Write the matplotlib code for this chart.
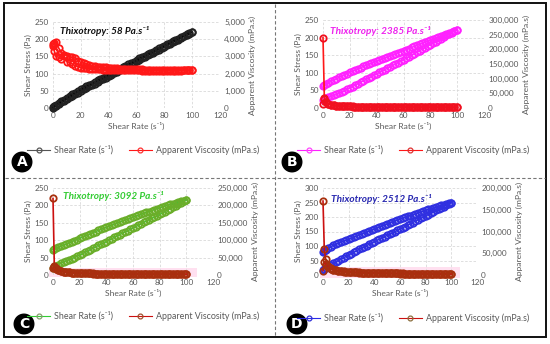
import matplotlib
matplotlib.use("Agg")
import matplotlib.pyplot as plt
from matplotlib.lines import Line2D
from matplotlib.patches import Rectangle
from matplotlib.ticker import FuncFormatter

plt.rcParams['font.family'] = ['Lato', 'DejaVu Sans']

# ---------------- data ----------------
rate = [0, 1, 2, 4, 6, 8, 10, 12, 14, 16, 18, 20, 22, 24, 26, 28, 30, 32, 34, 36, 38, 40,
        42, 44, 46, 48, 50, 52, 54, 56, 58, 60, 62, 64, 66, 68, 70, 72, 74, 76, 78, 80,
        82, 84, 86, 88, 90, 92, 94, 96, 98, 100]

# Panel A
a_stress_up = [0, 3, 6, 11, 16, 21, 26, 31, 36, 41, 45, 50, 54, 59, 63, 67, 71, 76, 80, 84, 88, 93,
               97, 101, 105, 110, 114, 118, 122, 127, 131, 136, 140, 144, 148, 153, 157, 161, 165, 170, 174, 178,
               182, 187, 191, 195, 199, 204, 208, 212, 216, 221]
a_stress_down = [2, 5, 9, 14, 19, 24, 29, 35, 40, 45, 50, 54, 59, 63, 67, 71, 76, 80, 84, 88, 93, 97,
                 101, 105, 110, 114, 118, 122, 127, 131, 135, 139, 144, 148, 152, 156, 160, 164, 169, 173, 177, 181,
                 186, 190, 194, 198, 202, 206, 210, 214, 218, 222]
a_visc_up = [3700, 3800, 3850, 3500, 3200, 3100, 3050, 2950, 2950, 2900, 2750, 2650, 2600, 2550, 2500, 2450,
             2420, 2400, 2385, 2370, 2355, 2340, 2325, 2310, 2300, 2290, 2280, 2270, 2265, 2260, 2255, 2250,
             2245, 2240, 2235, 2230, 2225, 2220, 2218, 2215, 2212, 2210, 2208, 2205, 2202, 2200, 2200, 2200,
             2198, 2195, 2192, 2190]
a_visc_down = [3600, 3300, 3000, 2950, 2850, 3000, 2700, 2650, 2550, 2450, 2400, 2350, 2320, 2300, 2285, 2270,
               2260, 2250, 2240, 2230, 2225, 2220, 2215, 2210, 2205, 2200, 2198, 2195, 2192, 2190, 2188, 2185,
               2182, 2180, 2180, 2180, 2178, 2175, 2175, 2175, 2175, 2175, 2175, 2175, 2178, 2180, 2180, 2180,
               2182, 2185, 2188, 2190]

# Panel B
b_stress_up = [22, 25, 27, 30, 33, 36, 39, 42, 45, 49, 53, 57, 61, 65, 69, 73, 77, 81, 85, 89, 93, 97,
               101, 105, 109, 113, 117, 121, 125, 129, 133, 137, 141, 145, 150, 154, 159, 163, 167, 171, 176, 180,
               184, 188, 193, 197, 202, 206, 210, 214, 219, 223]
b_stress_down = [62, 66, 69, 72, 76, 80, 83, 87, 91, 94, 98, 101, 105, 108, 111, 114, 118, 121, 124, 127, 130, 133,
                 136, 139, 142, 145, 148, 151, 154, 157, 160, 163, 166, 169, 172, 175, 178, 181, 184, 187, 190, 193,
                 196, 199, 202, 205, 208, 211, 214, 217, 220, 223]
b_visc_up = [240000, 35000, 22000, 15000, 11500, 9500, 8200, 7300, 6700, 6200, 5800, 5400, 5150, 4900, 4700, 4500,
             4350, 4200, 4050, 3900, 3800, 3700, 3600, 3500, 3420, 3350, 3270, 3200, 3120, 3050, 3000, 2950,
             2900, 2850, 2800, 2750, 2700, 2650, 2620, 2580, 2540, 2500, 2470, 2450, 2420, 2380, 2350, 2330,
             2300, 2280, 2250, 2230]
b_visc_down = [12000, 30000, 20000, 14000, 11000, 9000, 7800, 7000, 6400, 5900, 5500, 5200, 4950, 4700, 4500, 4300,
               4150, 4000, 3900, 3800, 3700, 3600, 3500, 3400, 3320, 3250, 3170, 3100, 3050, 3000, 2950, 2900,
               2850, 2800, 2750, 2700, 2660, 2620, 2580, 2550, 2510, 2480, 2450, 2420, 2390, 2360, 2330, 2310,
               2280, 2260, 2240, 2230]

# Panel C
c_stress_up = [20, 23, 26, 30, 34, 38, 41, 44, 47, 50, 54, 57, 61, 65, 69, 73, 77, 81, 85, 88, 92, 96,
               100, 104, 108, 112, 116, 120, 124, 127, 131, 135, 139, 143, 147, 151, 155, 159, 163, 166, 170, 174,
               178, 182, 187, 191, 195, 199, 204, 208, 212, 216]
c_stress_down = [73, 75, 77, 80, 83, 86, 89, 92, 96, 99, 102, 105, 109, 112, 115, 118, 122, 125, 128, 131, 134, 137,
                 140, 143, 146, 149, 152, 155, 158, 160, 163, 166, 169, 171, 174, 177, 180, 182, 185, 188, 191, 193,
                 196, 198, 201, 203, 205, 207, 210, 212, 214, 216]
c_visc_up = [220000, 25000, 20000, 15000, 12000, 10000, 8800, 7800, 7100, 6500, 6000, 5600, 5300, 5000, 4800, 4600,
             4400, 4200, 4050, 3900, 3800, 3700, 3600, 3500, 3400, 3300, 3220, 3150, 3070, 3000, 2950, 2900,
             2850, 2800, 2750, 2700, 2650, 2600, 2550, 2500, 2470, 2450, 2420, 2400, 2370, 2350, 2320, 2300,
             2270, 2250, 2220, 2200]
c_visc_down = [20000, 22000, 18000, 14000, 11000, 9300, 8200, 7300, 6700, 6100, 5700, 5300, 5050, 4800, 4600, 4400,
               4200, 4000, 3870, 3750, 3650, 3550, 3450, 3350, 3270, 3200, 3120, 3050, 2970, 2900, 2850, 2800,
               2750, 2700, 2650, 2600, 2560, 2520, 2480, 2450, 2420, 2400, 2370, 2350, 2320, 2300, 2280, 2260,
               2240, 2230, 2210, 2200]

# Panel D
d_stress_up = [18, 22, 25, 30, 35, 40, 45, 50, 55, 59, 64, 69, 74, 78, 83, 88, 92, 97, 101, 106, 110, 115,
               119, 124, 128, 132, 137, 141, 145, 149, 154, 158, 163, 167, 172, 176, 181, 186, 190, 195, 199, 204,
               208, 213, 218, 223, 227, 232, 236, 241, 245, 250]
d_stress_down = [81, 84, 87, 92, 97, 102, 106, 110, 114, 117, 120, 123, 127, 131, 134, 138, 141, 145, 148, 152, 155, 159,
                 162, 166, 169, 173, 176, 180, 183, 187, 190, 193, 196, 199, 202, 205, 208, 211, 214, 217, 220, 223,
                 226, 229, 231, 234, 237, 240, 242, 245, 247, 250]
d_visc_up = [170000, 60000, 37000, 20000, 15000, 12500, 11000, 9800, 9000, 8200, 7700, 7200, 6800, 6400, 6100, 5800,
             5550, 5300, 5100, 4900, 4750, 4600, 4450, 4300, 4200, 4100, 4000, 3900, 3800, 3700, 3620, 3550,
             3470, 3400, 3320, 3250, 3170, 3100, 3050, 3000, 2950, 2900, 2850, 2800, 2750, 2700, 2650, 2600,
             2550, 2500, 2450, 2400]
d_visc_down = [10000, 30000, 25000, 18000, 14000, 12000, 10500, 9300, 8500, 7800, 7300, 6800, 6450, 6100, 5800, 5500,
               5250, 5000, 4850, 4700, 4550, 4400, 4250, 4100, 4000, 3900, 3800, 3700, 3620, 3550, 3470, 3400,
               3320, 3250, 3170, 3100, 3050, 3000, 2950, 2900, 2850, 2800, 2750, 2700, 2650, 2600, 2550, 2500,
               2470, 2450, 2420, 2400]

labels = ["A", "B", "C", "D"]
thixo = ["Thixotropy: 58 Pa.s\u207b\u00b9", "Thixotropy: 2385 Pa.s\u207b\u00b9",
         "Thixotropy: 3092 Pa.s\u207b\u00b9", "Thixotropy: 2512 Pa.s\u207b\u00b9"]
left_max = [250, 250, 250, 300]
left_step = [50, 50, 50, 50]
right_max = [5000, 300000, 250000, 200000]
right_step = [1000, 50000, 50000, 50000]
xlabel = "Shear Rate (s\u207b\u00b9)"
ylabel_l = "Shear Stress (Pa)"
ylabel_r = "Apparent Viscosity (mPa.s)"
leg1 = "Shear Rate (s\u207b\u00b9)"
leg2 = "Apparent Viscosity (mPa.s)"

stress = [(a_stress_up, a_stress_down), (b_stress_up, b_stress_down),
          (c_stress_up, c_stress_down), (d_stress_up, d_stress_down)]
visc = [(a_visc_up, a_visc_down), (b_visc_up, b_visc_down),
        (c_visc_up, c_visc_down), (d_visc_up, d_visc_down)]

# ---------------- styling ----------------
W, H = 550, 344
s_line = ['#000000', '#FF22FF', '#33CC33', '#2A2AE8']
s_edge = ['#222222', '#FF22FF', '#6AAE2A', '#3030E0']
v_line = ['#FF1818', '#FF1818', '#CC1010', '#CC1010']
v_edge = ['#FF1818', '#F01020', '#A8300E', '#A8300E']
leg_s_mk = ['#555555', '#FF44FF', '#88A070', '#3030D8']
leg_v_mk = ['#FF3030', '#E03030', '#A0522D', '#8B7040']
thixo_col = ['#111111', '#EE22EE', '#33CC33', '#2828B0']
grey = '#595959'
fs = 5.9
ms = 4.6
# highlight bands behind the viscosity traces (panels C, D only), in left-axis units
hl = [None, None, (-3, -6, 108, 20), (-2, -10, 107, 28)]

# axes rectangles in pixels: left, right, top, bottom
boxes = [(53, 220, 22, 108), (323, 484, 20, 108), (53, 213, 188, 275), (323, 477, 188, 275)]
thixo_pos = [(60, 31), (330, 31), (63, 196), (331, 199)]
badge_pos = [(22, 162), (292, 162), (24, 324), (297, 324)]
legend_y = [150, 150, 316, 318]
legend_x = [143, 413, 143, 413]

fig = plt.figure(figsize=(W / 100, H / 100), dpi=100)

def fx(px):
    return px / W

def fy(py):
    return 1 - py / H

for i in range(4):
    l, r, t, b = boxes[i]
    ax = fig.add_axes([fx(l), fy(b), fx(r - l), (b - t) / H])
    ax2 = ax.twinx()
    ax.set_xlim(0, 120)
    ax.set_ylim(0, left_max[i])
    ax2.set_ylim(0, right_max[i])
    ax.set_xticks(list(range(0, 121, 20)))
    ax.set_yticks(list(range(0, left_max[i] + 1, left_step[i])))
    ax2.set_yticks(list(range(0, right_max[i] + 1, right_step[i])))
    ax2.yaxis.set_major_formatter(FuncFormatter(lambda v, p: f"{int(v):,}"))
    for a in (ax, ax2):
        for sp in a.spines.values():
            sp.set_visible(False)
        a.tick_params(length=0, labelsize=fs, colors=grey, pad=3)
    ax.grid(True, color='#D9D9D9', linestyle=(0, (3, 2)), linewidth=0.6)
    ax.set_axisbelow(True)
    ax.set_xlabel(xlabel, fontsize=fs + 0.2, color=grey, labelpad=2)
    ax.set_ylabel(ylabel_l, fontsize=fs + 0.2, color=grey, labelpad=2)
    ax2.set_ylabel(ylabel_r, fontsize=fs + 0.2, color=grey, labelpad=3)

    if hl[i] is not None:
        x0, y0, x1, y1 = hl[i]
        ax.add_patch(Rectangle((x0, y0), x1 - x0, y1 - y0, fc='#FFE0F0', ec='none',
                               zorder=0.5, clip_on=False))

    up, down = stress[i]
    ax.plot(rate, up, color=s_line[i], lw=1.2, marker='o', ms=ms,
            mfc='none', mec=s_edge[i], mew=1.3, clip_on=False)
    ax.plot(rate[::-1], down[::-1], color=s_line[i], lw=1.2, marker='o', ms=ms,
            mfc='none', mec=s_edge[i], mew=1.3, clip_on=False)
    vu, vd = visc[i]
    ax2.plot(rate, vu, color=v_line[i], lw=1.2, marker='o', ms=ms,
             mfc='none', mec=v_edge[i], mew=1.3, clip_on=False)
    ax2.plot(rate[::-1], vd[::-1], color=v_line[i], lw=1.2, marker='o', ms=ms,
             mfc='none', mec=v_edge[i], mew=1.3, clip_on=False)

    tx, ty = thixo_pos[i]
    fig.text(fx(tx), fy(ty), thixo[i], fontsize=7.2, color=thixo_col[i],
             fontweight='bold', fontstyle='italic', ha='left', va='center')

    h1 = Line2D([], [], color=s_line[i] if i else '#555555', lw=0.8, marker='o', ms=3.5,
                mfc='none', mec=leg_s_mk[i], mew=0.9)
    h2 = Line2D([], [], color=v_line[i], lw=0.8, marker='o', ms=3.5,
                mfc='none', mec=leg_v_mk[i], mew=0.9)
    fig.legend([h1, h2], [leg1, leg2], loc='center',
               bbox_to_anchor=(fx(legend_x[i]), fy(legend_y[i])), ncol=2, frameon=False,
               fontsize=6.4, labelcolor=grey, handlelength=2.6, columnspacing=1.8,
               handletextpad=0.4)

    bx, by = badge_pos[i]
    fig.text(fx(bx), fy(by), labels[i], fontsize=10, color='white', fontweight='bold',
             ha='center', va='center', family='DejaVu Sans',
             bbox=dict(boxstyle='circle,pad=0.2', fc='black', ec='black'))

# frame and dividers
frame = plt.Rectangle((fx(4), fy(337)), fx(542), (337 - 3) / H, transform=fig.transFigure,
                      fill=False, ec='#111111', lw=1.4)
fig.add_artist(frame)
fig.add_artist(Line2D([fx(275), fx(275)], [fy(4), fy(336)], transform=fig.transFigure,
                      color='#777777', lw=0.8, ls=(0, (3, 2))))
fig.add_artist(Line2D([fx(5), fx(545)], [fy(178), fy(178)], transform=fig.transFigure,
                      color='#777777', lw=0.8, ls=(0, (3, 2))))

fig.savefig("out.png", dpi=100, facecolor='white')
